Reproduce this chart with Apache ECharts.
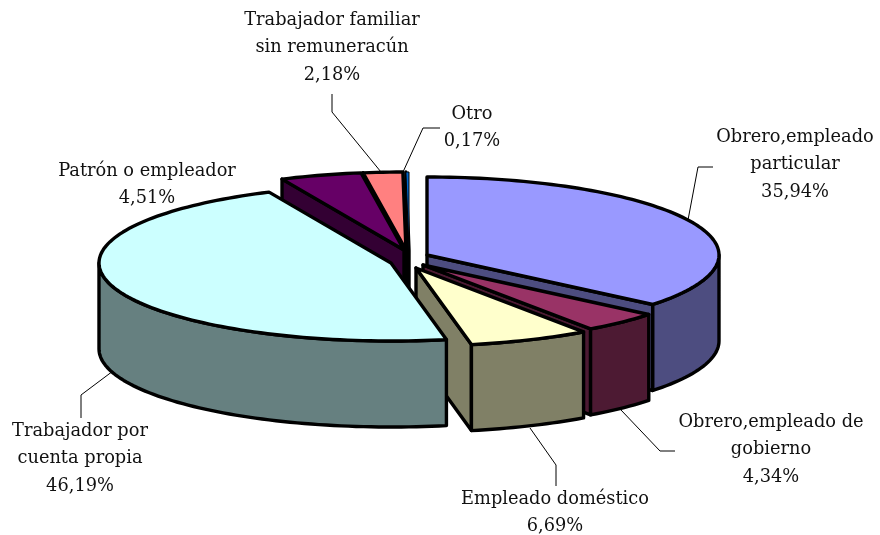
<!DOCTYPE html>
<html><head><meta charset="utf-8">
<script src="https://cdn.jsdelivr.net/npm/echarts@6/dist/echarts.min.js"></script>
<style>html,body{margin:0;padding:0;background:#fff}#c{width:880px;height:535px}</style>
</head><body><div id="c"></div>
<script>
// ---- data (clockwise from 12 o'clock) ----
const categories = [
  "Obrero,empleado\nparticular",
  "Obrero,empleado de\ngobierno",
  "Empleado doméstico",
  "Trabajador por\ncuenta propia",
  "Patrón o empleador",
  "Trabajador familiar\nsin remuneracún",
  "Otro"
];
const shares = [35.94, 4.34, 6.69, 46.19, 4.51, 2.18, 0.17];

// ---- styles ----
const topColors  = ["#9999FF","#993366","#FFFFCC","#CCFFFF","#660066","#FF8080","#0066CC"];
const sideColors = ["#4D4D80","#4D1A33","#808066","#668080","#330033","#804040","#003366"];

// ---- layout ----
const RX = 292, RY = 78, DEPTH = 86, EDGE = 3.4;
const apexes = [[427,255],[423,265],[416,268],[391,263],[404,250],[406,250],[409,250]];
const paintRank = [3,4,5,6,2,1,0];
const labelCenters = [[795,137],[771,422],[555,499],[80,431],[147,171],[332,20],[472,114]];
const LINE_H = 27.5;
const leaders = [
  [[688,220],[698,167],[713,167]],
  [[621,410],[660,451],[675,451]],
  [[530,428],[556,465],[556,486]],
  [[113,371],[81,395],[81,418]],
  null,
  [[381,172],[332,112],[332,94]],
  [[403,172],[423,128],[440,128]]
];

const total = shares.reduce((a,b)=>a+b,0);
const starts = []; let acc = 0;
shares.forEach(v=>{ starts.push(acc/total*360); acc+=v; });
const rim = (ap,deg,dy)=>{ const t=deg*Math.PI/180;
  return [ap[0]+RX*Math.sin(t), ap[1]-RY*Math.cos(t)+(dy||0)]; };
const arc = (ap,a,b,dy)=>{ const n=Math.max(2,Math.ceil(Math.abs(b-a)/1.5)), p=[];
  for(let i=0;i<=n;i++) p.push(rim(ap,a+(b-a)*i/n,dy)); return p; };

function renderSlice(params, api){
  const i = params.dataIndex, v = api.value(0);
  const a = starts[i], b = a + v/total*360, ap = apexes[i];
  const z = paintRank[i]*10, kids = [];
  const poly = (pts,fill,lw,zz)=>kids.push({type:'polygon',z2:z+zz,shape:{points:pts},
    style:{fill:fill,stroke:'#000',lineWidth:lw,lineJoin:'round'}});
  const wall = deg=>{ const r=rim(ap,deg);
    poly([ap,r,[r[0],r[1]+DEPTH],[ap[0],ap[1]+DEPTH]],sideColors[i],EDGE,1); };
  const sb = Math.sin(b*Math.PI/180), sa = Math.sin(a*Math.PI/180);
  if(sb>1e-6 && b<180) wall(b);
  if(sa<-1e-6) wall(a);
  const oa=Math.max(a,90), ob=Math.min(b,270);
  if(ob>oa) poly(arc(ap,oa,ob).concat(arc(ap,ob,oa,DEPTH)),sideColors[i],EDGE,2);
  poly([ap].concat(arc(ap,a,b)),topColors[i],v<1?1:EDGE,3);
  if(leaders[i]) kids.push({type:'polyline',z2:500,shape:{points:leaders[i]},
    style:{fill:null,stroke:'#000',lineWidth:1}});
  const lines = (categories[i]+"\n"+v.toFixed(2).replace('.',',')+"%").split("\n");
  lines.forEach((t,k)=>kids.push({type:'text',z2:600,style:{
    text:t,x:labelCenters[i][0],y:labelCenters[i][1]+k*LINE_H,
    align:'center',verticalAlign:'middle',
    font:'17.8px "DejaVu Serif"',fill:'#111'}}));
  return {type:'group',children:kids};
}

const chart = echarts.init(document.getElementById('c'),null,{renderer:'canvas'});
chart.setOption({
  animation:false,
  backgroundColor:'#fff',
  series:[{type:'custom',coordinateSystem:'none',renderItem:renderSlice,
    data:shares.map((v,i)=>({name:categories[i],value:[v]})),silent:true}]
});
</script></body></html>
